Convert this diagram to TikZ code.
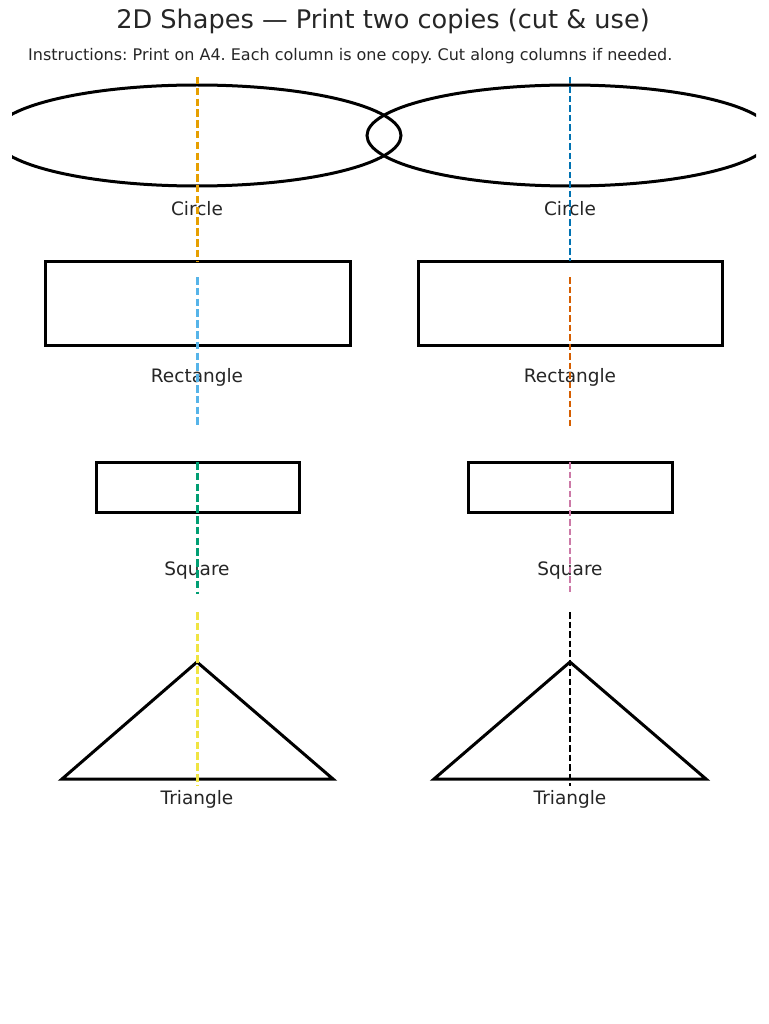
\documentclass[tikz,border=0pt]{standalone}
\usepackage{fontspec}
\setmainfont{DejaVu Sans}
\frenchspacing
\definecolor{txt}{HTML}{262626}
\definecolor{cOrange}{HTML}{E69F00}
\definecolor{cBlue}{HTML}{0072B2}
\definecolor{cSky}{HTML}{56B4E9}
\definecolor{cVerm}{HTML}{D55E00}
\definecolor{cGreen}{HTML}{009E73}
\definecolor{cPink}{HTML}{CC79A7}
\definecolor{cYellow}{HTML}{F0E442}
\tikzset{
  shapeline/.style={draw=black, line width=3pt, line join=miter},
  lbl/.style={text=txt, font=\fontsize{18.5}{21}\selectfont, inner sep=0pt, anchor=base},
  cutL/.style={line width=3pt, dash pattern=on 7.5pt off 3.3pt},
  cutR/.style={line width=2pt, dash pattern=on 6.5pt off 3pt},
}
\begin{document}
\begin{tikzpicture}[x=1pt,y=-1pt]
\useasboundingbox (0,0) rectangle (768,1024);
\fill[white] (0,0) rectangle (768,1024);
% titles
\node[text=txt, font=\fontsize{25.6}{28}\selectfont, inner sep=0pt, anchor=base] (title) at (383,28.5) {2D Shapes — Print two copies (cut \& use)};
\node[text=txt, font=\fontsize{16}{19}\selectfont, inner sep=0pt, anchor=base west] (instr) at (28,61) {Instructions: Print on A4. Each column is one copy. Cut along columns if needed.};
% circles (ellipses, clipped)
\begin{scope}
\clip (12,0) rectangle (756,1024);
\draw[shapeline] (197,135.5) ellipse [x radius=204, y radius=50.5];
\draw[shapeline] (570,135.5) ellipse [x radius=203, y radius=50.5];
\end{scope}
% rectangles
\draw[shapeline] (45,261) rectangle (350,345);
\draw[shapeline] (418,261) rectangle (722,345);
% squares
\draw[shapeline] (96,462) rectangle (299,512);
\draw[shapeline] (468,462) rectangle (672,512);
% triangles
\draw[shapeline] (62,779) -- (197,662) -- (333,779) -- cycle;
\draw[shapeline] (434,779) -- (570,662) -- (706,779) -- cycle;
% labels
\node[lbl] (lc1) at (197,215.5) {Circle};
\node[lbl] (lc2) at (570,215.5) {Circle};
\node[lbl] (lr1) at (197,382.5) {Rectangle};
\node[lbl] (lr2) at (570,382.5) {Rectangle};
\node[lbl] (ls1) at (197,575) {Square};
\node[lbl] (ls2) at (570,575) {Square};
\node[lbl] (lt1) at (197,804) {Triangle};
\node[lbl] (lt2) at (570,804) {Triangle};
% cut lines
\coordinate (a1) at (197,77);  \coordinate (a2) at (197,261);
\coordinate (b1) at (197,277); \coordinate (b2) at (197,428);
\coordinate (c1) at (197,462); \coordinate (c2) at (197,594);
\coordinate (d1) at (197,612); \coordinate (d2) at (197,786);
\coordinate (e1) at (570,77);  \coordinate (e2) at (570,261);
\coordinate (f1) at (570,277); \coordinate (f2) at (570,428);
\coordinate (g1) at (570,462); \coordinate (g2) at (570,594);
\coordinate (h1) at (570,612); \coordinate (h2) at (570,786);
\draw[cutL, cOrange] (a1) -- (a2);
\draw[cutL, cSky] (b1) -- (b2);
\draw[cutL, cGreen] (c1) -- (c2);
\draw[cutL, cYellow] (d1) -- (d2);
\draw[cutR, cBlue] (e1) -- (e2);
\draw[cutR, cVerm] (f1) -- (f2);
\draw[cutR, cPink] (g1) -- (g2);
\draw[cutR, black] (h1) -- (h2);
\end{tikzpicture}
\end{document}
